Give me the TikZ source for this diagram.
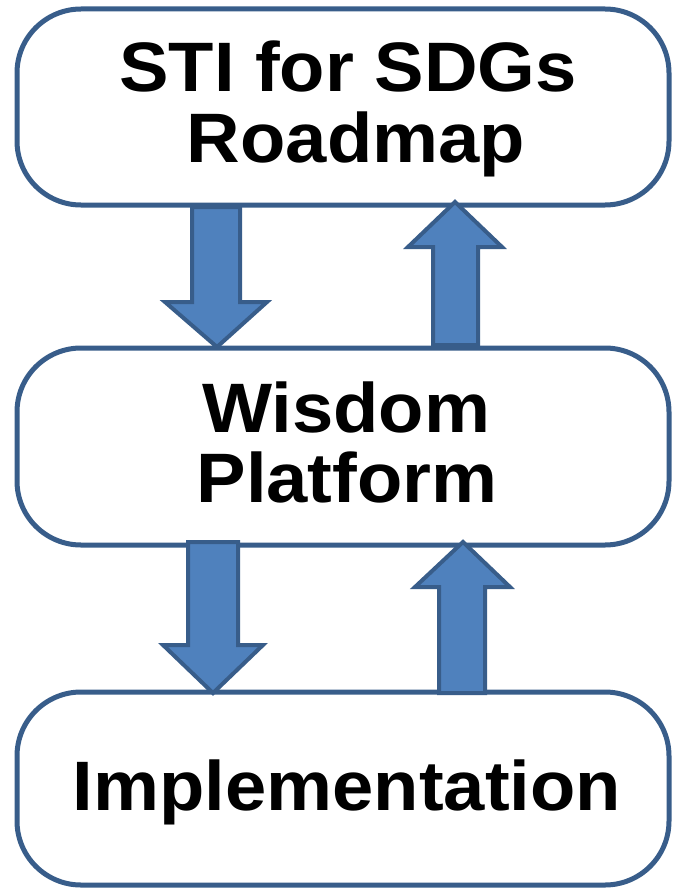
\documentclass[tikz,border=0pt]{standalone}
\usepackage{fontspec}
\setmainfont{Liberation Sans}
\newfontfamily\bigfont[FakeStretch=1.06]{Liberation Sans}
\definecolor{edge}{HTML}{385D8A}
\definecolor{fillb}{HTML}{4F81BD}
\begin{document}
\begin{tikzpicture}[x=1pt,y=-1pt,
  box/.style={draw=edge, line width=5pt, fill=white, rounded corners=64pt,
    minimum width=652pt, inner sep=0pt, outer sep=0pt},
  lbl/.style={anchor=base, inner sep=0pt, font=\bigfont\fontsize{70}{70}\selectfont\bfseries},
  fat/.style={draw=edge, line width=4pt, fill=fillb, line join=miter}]
\useasboundingbox (0,0) rectangle (674,888);
\node[box, minimum height=196pt] (b1) at (343,107) {};
\node[box, minimum height=197pt] (b2) at (343,446.5) {};
\node[box, minimum height=193pt] (b3) at (343,788.5) {};
\node[lbl] (t1a) at (348,92) {STI for SDGs};
\node[lbl] (t1b) at (356,162.5) {Roadmap};
\node[lbl] (t2a) at (346,432) {Wisdom};
\node[lbl] (t2b) at (347,502) {Platform};
\node[lbl] (t3) at (347,810) {Implementation};
% arrows: b1 -> b2 (down)
\draw[fat] (192,207) -- (240,207) -- (240,302) -- (267,302) -- (217,347) -- (165,302) -- (192,302) -- cycle;
% b2 -> b1 (up)
\draw[fat] (433,345) -- (433,247) -- (408,247) -- (455,202) -- (502,247) -- (478,247) -- (478,345) -- cycle;
% b2 -> b3 (down)
\draw[fat] (188,542) -- (238,542) -- (238,645) -- (263,645) -- (213,693) -- (163,645) -- (188,645) -- cycle;
% b3 -> b2 (up)
\draw[fat] (439,693) -- (439,587) -- (415,587) -- (463,542) -- (510,587) -- (485,587) -- (485,693) -- cycle;
\end{tikzpicture}
\end{document}
